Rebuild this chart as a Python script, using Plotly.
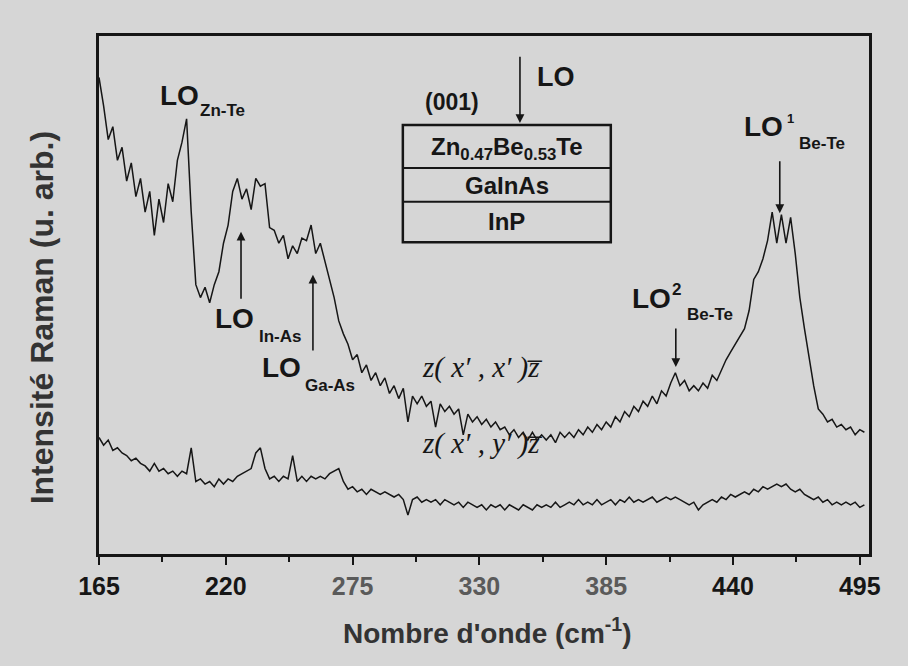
import plotly.graph_objects as go

# Raman spectra of Zn0.47Be0.53Te / GaInAs / InP (001), two polarisation geometries
wavenumber = list(range(165, 498, 2))  # cm^-1, 2 cm^-1 sampling

# z(x',x')z-bar geometry (parallel)
intensity_xx = [
    92.0, 86.5, 80.0, 82.5, 76.0, 78.5, 72.0, 75.5, 69.0, 72.5,
    66.0, 70.0, 61.5, 68.5, 64.0, 71.5, 68.0, 76.0, 79.5, 84.0,
    66.0, 52.0, 49.5, 51.5, 48.5, 52.0, 54.5, 60.0, 63.5, 70.0,
    72.5, 68.5, 70.5, 66.5, 72.5, 71.0, 71.5, 63.0, 62.5, 60.0,
    61.5, 57.0, 59.5, 58.0, 61.0, 60.5, 63.5, 58.0, 60.0, 56.5,
    53.0, 49.5, 45.0, 42.5, 40.5, 37.5, 38.5, 35.0, 36.5, 33.5,
    35.0, 32.5, 34.0, 31.0, 32.5, 30.0, 32.0, 25.5, 30.5, 29.0,
    30.5, 28.5, 29.5, 24.5, 29.0, 27.5, 28.5, 27.0, 28.0, 23.0,
    27.0, 25.5, 26.5, 25.0, 26.0, 24.5, 25.5, 24.0, 24.5, 23.0,
    24.0, 22.5, 23.5, 22.0, 23.5, 22.0, 23.0, 22.0, 23.0, 21.5,
    23.5, 22.5, 23.5, 22.5, 24.0, 23.0, 24.5, 23.5, 25.0, 24.0,
    25.5, 24.5, 26.5, 25.5, 27.5, 26.5, 28.5, 27.5, 29.5, 28.5,
    30.5, 29.0, 31.5, 30.5, 33.0, 35.0, 32.5, 33.5, 31.5, 32.5,
    31.5, 33.0, 32.0, 34.5, 33.5, 35.5, 37.5, 39.0, 40.5, 42.0,
    43.5, 47.0, 53.0, 54.5, 57.0, 60.5, 66.0, 60.0, 65.5, 60.0,
    65.0, 58.0, 49.5, 43.5, 38.0, 32.5, 28.0, 27.0, 25.5, 26.0,
    24.5, 25.0, 24.0, 24.5, 23.0, 24.0, 23.5,
]

# z(x',y')z-bar geometry (crossed)
intensity_xy = [
    22.5, 21.0, 22.0, 20.0, 20.5, 19.5, 19.0, 18.0, 18.5, 17.5,
    17.0, 16.0, 17.5, 16.0, 16.5, 15.5, 16.0, 15.0, 16.0, 15.5,
    20.5, 14.0, 14.5, 13.5, 14.0, 13.0, 14.5, 13.5, 14.5, 14.0,
    15.0, 15.5, 16.0, 16.5, 19.5, 20.5, 16.5, 14.5, 15.0, 14.0,
    15.0, 14.5, 19.0, 14.0, 15.0, 14.0, 15.0, 14.5, 15.0, 14.5,
    15.5, 16.0, 16.5, 14.0, 12.5, 13.0, 12.0, 12.5, 11.5, 12.5,
    12.0, 11.5, 12.0, 11.5, 11.0, 11.5, 10.5, 7.5, 10.5, 11.0,
    10.0, 10.5, 10.0, 10.5, 9.5, 10.5, 10.0, 9.5, 10.0, 9.0,
    10.0, 9.5, 9.0, 9.5, 8.5, 9.5, 9.0, 9.5, 8.5, 9.5,
    9.0, 8.5, 9.5, 9.0, 8.5, 9.5, 9.0, 9.5, 9.0, 10.0,
    9.0, 9.5, 10.0, 9.5, 10.5, 9.5, 10.0, 9.5, 10.5, 9.5,
    10.0, 10.5, 9.5, 10.5, 10.0, 11.0, 10.0, 10.5, 10.0, 10.5,
    11.0, 10.0, 10.5, 11.0, 10.5, 11.0, 10.5, 10.0, 9.5, 10.0,
    8.5, 9.5, 10.0, 10.5, 10.0, 11.0, 10.5, 11.5, 11.0, 11.5,
    12.0, 11.5, 12.5, 12.0, 13.0, 12.5, 13.0, 13.5, 13.0, 13.5,
    12.5, 12.0, 12.5, 11.5, 11.0, 10.5, 11.0, 10.0, 10.5, 9.5,
    10.0, 9.5, 10.0, 9.5, 10.0, 9.0, 9.5,
]

tick_values = [165, 220, 275, 330, 385, 440, 495]
tick_labels = ["165", "220", "275", "330", "385", "440", "495"]
faded_ticks = {"275", "330", "385"}

# Phonon mode positions marked by arrows (wavenumber, intensity at arrow tip)
mode_in_as = (226.6, 62.2)
mode_ga_as = (257.8, 53.9)
mode_be_te_2 = (415.2, 36.1)
mode_be_te_1 = (460.3, 65.8)

BG = "#d6d6d6"
INK = "#161616"
SANS = "Liberation Sans, Arial, sans-serif"
SERIF = "Liberation Serif, Times New Roman, serif"

fig = go.Figure()
for ys in (intensity_xx, intensity_xy):
    fig.add_trace(go.Scatter(
        x=wavenumber, y=ys, mode="lines",
        line=dict(color=INK, width=1.5), showlegend=False, hoverinfo="skip",
    ))

ticktext = [
    f'<span style="color:#5a5a5a">{t}</span>' if t in faded_ticks else t
    for t in tick_labels
]

fig.update_layout(
    width=908, height=666,
    margin=dict(l=99, r=39, t=36, b=112),
    paper_bgcolor=BG, plot_bgcolor=BG,
    showlegend=False,
    xaxis=dict(
        range=[165, 499], showgrid=False, zeroline=False,
        showline=True, linecolor=INK, linewidth=3, mirror=True,
        tickmode="array", tickvals=tick_values, ticktext=ticktext,
        ticks="outside", ticklen=8, tickwidth=2, tickcolor=INK,
        ticklabelstandoff=0,
        tickfont=dict(family=SANS, size=25, color=INK, weight="bold"),
        minor=dict(tickmode="linear", tick0=165, dtick=27.5,
                   ticks="outside", ticklen=5, tickwidth=2, tickcolor=INK),
    ),
    yaxis=dict(
        range=[0, 100], showgrid=False, zeroline=False,
        showline=True, linecolor=INK, linewidth=3, mirror=True,
        showticklabels=False, ticks="",
    ),
)


def label(x, y, text, size, anchor="left", family=SANS, bold=True, italic=False):
    fig.add_annotation(
        x=x, y=y, xref="x", yref="y", text=text, showarrow=False,
        xanchor=anchor, yanchor="middle",
        font=dict(family=family, size=size, color=INK,
                  weight="bold" if bold else "normal",
                  style="italic" if italic else "normal"),
    )


def arrow(tip, tail_y):
    fig.add_annotation(
        x=tip[0], y=tip[1], ax=tip[0], ay=tail_y, xref="x", yref="y",
        axref="x", ayref="y", text="", showarrow=True,
        arrowhead=2, arrowsize=1.1, arrowwidth=1.6, arrowcolor=INK,
    )


# Mode labels
label(190.6, 88.6, "LO", 28)
label(207.9, 85.7, "Zn-Te", 17)

label(214.4, 45.4, "LO", 28)
label(233.5, 41.9, "In-As", 17)
arrow(mode_in_as, 49.0)

label(234.8, 36.1, "LO", 28)
label(253.5, 32.6, "Ga-As", 17)
arrow(mode_ga_as, 39.0)

label(395.3, 49.4, "LO", 28)
label(412.6, 51.0, "2", 17)
label(419.1, 46.3, "Be-Te", 17)
arrow(mode_be_te_2, 43.8)

label(443.8, 82.6, "LO", 28)
label(462.4, 84.0, "1", 13)
label(467.7, 79.3, "Be-Te", 17)
arrow(mode_be_te_1, 76.1)

# Scattering geometries
label(304.2, 36.1, "z( x\u2032 , x\u2032 )z\u0305", 29, family=SERIF, bold=False, italic=True)
label(304.2, 21.4, "z( x\u2032 , y\u2032 )z\u0305", 29, family=SERIF, bold=False, italic=True)

# Sample structure inset
label(318.1, 87.3, "(001)", 23, anchor="center")
label(354.1, 92.1, "LO", 27)
arrow((347.6, 83.2), 96.3)

box_x0, box_x1 = 296.8, 387.0
layer_edges = [82.8, 74.5, 68.0, 60.2]
fig.add_shape(type="rect", xref="x", yref="y", x0=box_x0, x1=box_x1,
              y0=layer_edges[3], y1=layer_edges[0],
              line=dict(color=INK, width=2.5))
for yl in layer_edges[1:3]:
    fig.add_shape(type="line", xref="x", yref="y", x0=box_x0, x1=box_x1,
                  y0=yl, y1=yl, line=dict(color=INK, width=2))
box_cx = (box_x0 + box_x1) / 2
label(box_cx, 78.2, "Zn<sub>0.47</sub>Be<sub>0.53</sub>Te", 24, anchor="center")
label(box_cx, 71.2, "GaInAs", 24, anchor="center")
label(box_cx, 64.1, "InP", 24, anchor="center")

# Axis titles
fig.add_annotation(
    x=0.504, y=-0.149, xref="paper", yref="paper", showarrow=False,
    text="Nombre d'onde (cm<sup>-1</sup>)", xanchor="center", yanchor="middle",
    font=dict(family=SANS, size=28, color="#333333", weight="bold"),
)
fig.add_annotation(
    x=-0.074, y=0.455, xref="paper", yref="paper", showarrow=False,
    text="Intensité Raman (u. arb.)", textangle=-90,
    xanchor="center", yanchor="middle",
    font=dict(family=SANS, size=32, color="#333333", weight="bold"),
)

fig.write_html("out.html")
